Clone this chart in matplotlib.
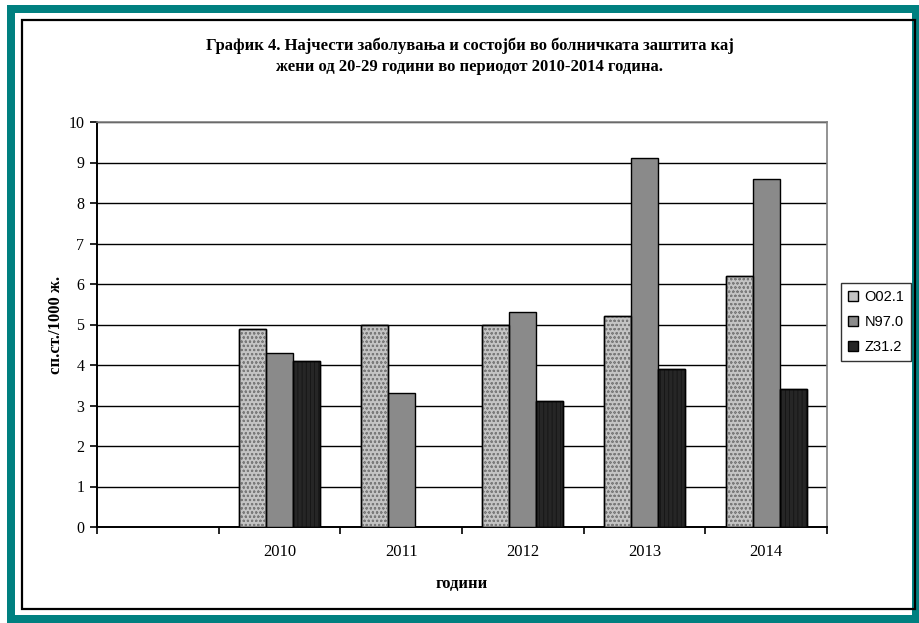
import numpy as np
import matplotlib
matplotlib.use("Agg")
import matplotlib.pyplot as plt
from matplotlib.patches import Rectangle

# податоци: стапка на 1000 жени, по години
categories = ["", "2010", "2011", "2012", "2013", "2014"]
series = ["O02.1", "N97.0", "Z31.2"]
o02 = [np.nan, 4.9, 5.0, 5.0, 5.2, 6.2]
n97 = [np.nan, 4.3, 3.3, 5.3, 9.1, 8.6]
z31 = [np.nan, 4.1, np.nan, 3.1, 3.9, 3.4]

faces = ["#c4c4c4", "#8a8a8a", "#262626"]
hatches = ["oooo", None, "||||"]
hatch_cols = ["#7a7a7a", None, "#111111"]

plt.rcParams["hatch.linewidth"] = 0.5
serif = "Liberation Serif"

fig = plt.figure(figsize=(9.2, 6.23), dpi=100)

# рамка околу графиконот
fig.patches.append(Rectangle((7 / 920, 0), 913 / 920, 618 / 623, transform=fig.transFigure,
                             facecolor="#008080", edgecolor="none", zorder=-3))
fig.patches.append(Rectangle((15 / 920, 8 / 623), 897 / 920, 602 / 623, transform=fig.transFigure,
                             facecolor="white", edgecolor="none", zorder=-2))
fig.patches.append(Rectangle((22 / 920, 14 / 623), 893 / 920, 589 / 623, transform=fig.transFigure,
                             facecolor="none", edgecolor="black", linewidth=1.6, zorder=-1))

ax = fig.add_axes([97 / 920, 1 - 527 / 623, 730 / 920, 405 / 623])
ax.set_zorder(2)
ax.patch.set_facecolor("white")
x = np.arange(len(categories))
w = 0.222
for i, (vals, name) in enumerate(zip([o02, n97, z31], series)):
    pos = x + (i - 1) * w
    ax.bar(pos, vals, w, color=faces[i], edgecolor="black", linewidth=1.0, label=name, zorder=3)
    if hatches[i]:
        ax.bar(pos, vals, w, color="none", edgecolor=hatch_cols[i], hatch=hatches[i],
               linewidth=0, zorder=3.5)
        ax.bar(pos, vals, w, color="none", edgecolor="black", linewidth=1.0, zorder=4)

ax.set_ylim(0, 10)
ax.set_xlim(-0.5, len(categories) - 0.5)
ax.set_yticks(range(0, 11))
ax.set_yticklabels([str(v) for v in range(0, 11)], fontfamily=serif, fontsize=11.5)
ax.yaxis.grid(True, color="black", linewidth=1.0, zorder=1)
ax.set_axisbelow(True)

ax.set_xticks(np.arange(-0.5, len(categories), 1.0))
ax.set_xticklabels([])
ax.set_xticks(x, minor=True)
ax.set_xticklabels(categories, minor=True, fontfamily=serif, fontsize=12)
ax.tick_params(axis="x", which="minor", length=0, pad=12)
ax.tick_params(axis="x", which="major", length=5, width=1.2, direction="out")
ax.tick_params(axis="y", length=5, width=1.2, direction="out", pad=4)

for side in ["top", "right"]:
    ax.spines[side].set_color("#808080")
    ax.spines[side].set_linewidth(1.2)
for side in ["left", "bottom"]:
    ax.spines[side].set_color("black")
    ax.spines[side].set_linewidth(1.4)

ax.set_ylabel("сп.ст./1000 ж.", fontfamily=serif, fontweight="bold", fontsize=12, labelpad=3)
ax.set_xlabel("години", fontfamily=serif, fontweight="bold", fontsize=12, labelpad=12)

fig.text(470 / 920, 1 - 56 / 623,
         "График 4. Најчести заболувања и состојби во болничката заштита кај\n"
         "жени од 20-29 години во периодот 2010-2014 година.",
         ha="center", va="center", fontfamily=serif, fontweight="bold", fontsize=12,
         linespacing=1.4)

handles, labels = ax.get_legend_handles_labels()
leg = fig.legend(handles, labels, loc="upper left", bbox_to_anchor=(841 / 920, 1 - 283 / 623),
                 prop={"family": "Liberation Sans", "size": 10.5}, frameon=True, fancybox=False,
                 edgecolor="black", handlelength=0.7, handleheight=0.7, handletextpad=0.4,
                 borderpad=0.5, labelspacing=0.75, borderaxespad=0)
leg.get_frame().set_linewidth(1.0)

fig.savefig("out.png", dpi=100)
